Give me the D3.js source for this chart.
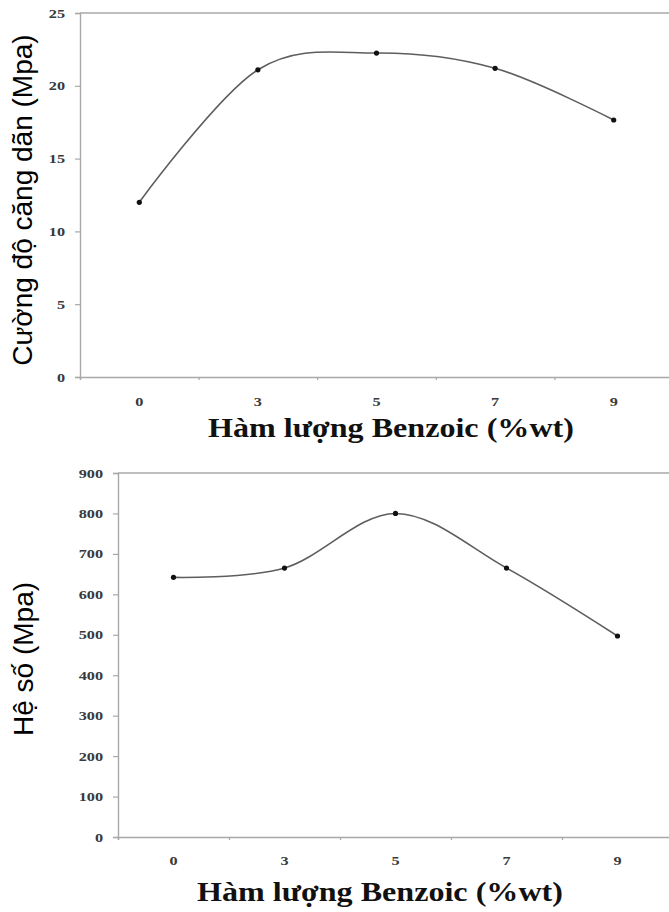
<!DOCTYPE html>
<html>
<head>
<meta charset="utf-8">
<script src="https://cdn.jsdelivr.net/npm/d3@7/dist/d3.min.js"></script>
<style>
  html, body { margin: 0; padding: 0; background: #ffffff; }
  svg { display: block; }
</style>
</head>
<body>
<svg id="chart" width="669" height="912"></svg>
<script>
// ---- data ----
const categories = ["0", "3", "5", "7", "9"];
const strengthValues = [12.0, 21.1, 22.25, 21.2, 17.65];
const modulusValues = [642, 665, 800, 665, 497];
const strengthTicks = [0, 5, 10, 15, 20, 25];
const modulusTicks = [0, 100, 200, 300, 400, 500, 600, 700, 800, 900];
const strengthTitle = "Cường độ căng dãn (Mpa)";
const modulusTitle = "Hệ số (Mpa)";
const xTitle = "Hàm lượng Benzoic (%wt)";

const svg = d3.select("#chart");

const panels = [
  { values: strengthValues, ticks: strengthTicks, yTitle: strengthTitle,
    left: 80, right: 673, top: 13, bottom: 377,
    yTitleX: 32, yTitleY: 200, xTitleStart: 208, xTitleBase: 437, xLabelY: 402 },
  { values: modulusValues, ticks: modulusTicks, yTitle: modulusTitle,
    left: 118, right: 673, top: 473, bottom: 837,
    yTitleX: 33, yTitleY: 659, xTitleStart: 197, xTitleBase: 901, xLabelY: 861 }
];

const axisColor = "#a8a8a8";
const labelColor = "#3a3a3a";
const tickFont = "'Liberation Serif', 'Times New Roman', serif";

panels.forEach(p => {
  const g = svg.append("g");
  const x = d3.scaleBand().domain(categories).range([p.left, p.right]).padding(0);
  const y = d3.scaleLinear().domain([0, d3.max(p.ticks)]).range([p.bottom, p.top]);
  const xb = d3.scaleLinear().domain([0, categories.length]).range([p.left, p.right]);

  // top border (gridline at max)
  g.append("line")
    .attr("x1", p.left).attr("x2", p.right)
    .attr("y1", y(d3.max(p.ticks))).attr("y2", y(d3.max(p.ticks)))
    .attr("stroke", axisColor).attr("stroke-width", 1.4);

  // y axis
  const ya = g.append("g")
    .attr("transform", `translate(${p.left},0)`)
    .call(d3.axisLeft(y).tickValues(p.ticks).tickSize(5).tickPadding(6.5).tickFormat(d3.format("d")));
  ya.select(".domain").attr("stroke", axisColor).attr("stroke-width", 1.4);
  ya.selectAll(".tick line").attr("stroke", axisColor).attr("stroke-width", 1.2);
  ya.selectAll(".tick text")
    .attr("fill", labelColor)
    .style("font-family", tickFont)
    .style("font-weight", "bold")
    .style("font-size", "12.5px")
    .attr("transform", "scale(1.3,1)");

  // x axis line with boundary ticks
  const xa = g.append("g")
    .attr("transform", `translate(0,${p.bottom})`)
    .call(d3.axisBottom(xb).tickValues(d3.range(0, categories.length + 1)).tickSize(3).tickFormat(""));
  xa.select(".domain").attr("stroke", axisColor).attr("stroke-width", 1.4);
  xa.selectAll(".tick line").attr("stroke", axisColor).attr("stroke-width", 1.2);

  // x category labels
  const xl = g.append("g")
    .attr("transform", `translate(0,${p.bottom})`)
    .call(d3.axisBottom(x).tickSize(0).tickPadding(p.xLabelY - p.bottom - 5));
  xl.select(".domain").remove();
  xl.selectAll(".tick text")
    .attr("fill", labelColor)
    .style("font-family", tickFont)
    .style("font-weight", "bold")
    .style("font-size", "12.5px")
    .attr("transform", "scale(1.3,1)");

  // line
  const line = d3.line()
    .x((d, i) => x(categories[i]) + x.bandwidth() / 2)
    .y(d => y(d))
    .curve(d3.curveCardinal.tension(0));
  g.append("path")
    .datum(p.values)
    .attr("d", line)
    .attr("fill", "none")
    .attr("stroke", "#5e5e5e")
    .attr("stroke-width", 1.6);

  g.selectAll("circle.pt")
    .data(p.values)
    .join("circle")
    .attr("class", "pt")
    .attr("cx", (d, i) => x(categories[i]) + x.bandwidth() / 2)
    .attr("cy", d => y(d))
    .attr("r", 2.6)
    .attr("fill", "#111");

  // y title
  g.append("text")
    .attr("transform", `translate(${p.yTitleX},${p.yTitleY}) rotate(-90)`)
    .attr("text-anchor", "middle")
    .style("font-family", "'Liberation Sans', Arial, sans-serif")
    .style("font-size", "28px")
    .attr("fill", "#000")
    .text(p.yTitle);

  // x title
  g.append("text")
    .attr("x", p.xTitleStart)
    .attr("y", p.xTitleBase)
    .attr("textLength", 366)
    .attr("lengthAdjust", "spacingAndGlyphs")
    .style("font-family", tickFont)
    .style("font-weight", "bold")
    .style("font-size", "27px")
    .attr("fill", "#111")
    .text(xTitle);
});
</script>
</body>
</html>
